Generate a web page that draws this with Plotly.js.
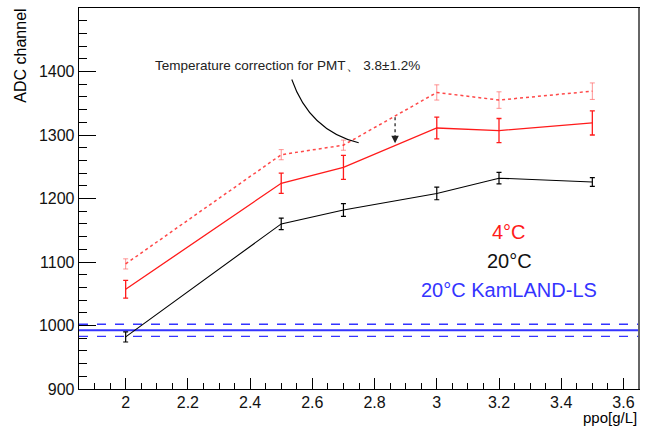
<!DOCTYPE html>
<html>
<head>
<meta charset="utf-8">
<script src="https://cdn.plot.ly/plotly-3.0.1.min.js"></script>
<style>html,body{margin:0;padding:0;background:#fff;}</style>
</head>
<body>
<div id="chart" style="width:655px;height:430px;"></div>
<script>
// ---- data ----
const ppo = [2.0, 2.5, 2.7, 3.0, 3.2, 3.5];
const adc20 = [982, 1160, 1182, 1208, 1232, 1226];
const err20 = [8, 9, 10, 10, 9, 7];
const adc4 = [1057, 1224, 1249, 1311, 1307, 1319];
const err4 = [14, 16, 19, 17, 19, 19];
const adc4corr = [1097, 1269, 1284, 1367, 1355, 1369];
const err4corr = [8, 8, 8, 12, 13, 13];
const xRange = [1.85, 3.65];
const yRange = [900, 1500];
const kamMean = 992.5;
const kamErr = 9.5;
const arrowX = 2.866;
const arrowY = [1328, 1287];
const labels = ["4°C", "20°C", "20°C KamLAND-LS"];
const noteText = "Temperature correction for PMT、 3.8±1.2%";

const FONT = "Liberation Sans, Arial, Helvetica, sans-serif";
const RED = "#ff1a1a";
const BLUE = "#3434ff";

const traces = [
  {x: xRange, y: [kamMean, kamMean], mode: "lines", line: {color: BLUE, width: 1.8}, hoverinfo: "skip"},
  {x: xRange, y: [kamMean + kamErr, kamMean + kamErr], mode: "lines", line: {color: BLUE, width: 1.3, dash: "dash"}, hoverinfo: "skip"},
  {x: xRange, y: [kamMean - kamErr, kamMean - kamErr], mode: "lines", line: {color: BLUE, width: 1.3, dash: "dash"}, hoverinfo: "skip"},
  {x: ppo, y: adc4corr, mode: "lines", line: {color: "rgba(255,40,40,0.85)", width: 1.5, dash: "dot"},
   error_y: {type: "data", array: err4corr, visible: true, color: "rgba(255,90,90,0.65)", thickness: 1, width: 2.5}},
  {x: ppo, y: adc4, mode: "lines", line: {color: RED, width: 1.3},
   error_y: {type: "data", array: err4, visible: true, color: RED, thickness: 1.3, width: 2.5}},
  {x: ppo, y: adc20, mode: "lines", line: {color: "#000", width: 1.1},
   error_y: {type: "data", array: err20, visible: true, color: "#000", thickness: 1.2, width: 2.5}}
];

const layout = {
  width: 655, height: 430,
  margin: {l: 79, r: 16, t: 8, b: 41},
  paper_bgcolor: "#fff", plot_bgcolor: "#fff",
  showlegend: false,
  font: {family: FONT, color: "#000"},
  xaxis: {
    range: xRange, dtick: 0.2, tick0: 2, ticks: "inside", ticklen: 11, tickwidth: 1, tickcolor: "#000",
    showgrid: false, zeroline: false, showline: true, linecolor: "#000", linewidth: 1.3, mirror: true,
    tickfont: {size: 16, family: FONT, color: "#111"}, ticklabelstandoff: -2,
    minor: {dtick: 0.05, ticks: "inside", ticklen: 6, tickcolor: "#000", tickwidth: 1, showgrid: false}
  },
  yaxis: {
    range: yRange, dtick: 100, ticks: "inside", ticklen: 17, tickwidth: 1, tickcolor: "#000",
    showgrid: false, zeroline: false, showline: true, linecolor: "#000", linewidth: 1.3, mirror: true,
    tickfont: {size: 16, family: FONT, color: "#111"},
    minor: {dtick: 20, ticks: "inside", ticklen: 8, tickcolor: "#000", tickwidth: 1, showgrid: false}
  },
  shapes: [
    {type: "line", xref: "paper", yref: "paper", x0: 1, x1: 1, y0: 0, y1: 1, line: {color: "#666", width: 2}},
    {type: "path", xref: "x", yref: "y",
     path: "M 2.534 1387.4 Q 2.591 1307 2.749 1287.7", line: {color: "#000", width: 1.1}},
    {type: "line", xref: "x", yref: "y", x0: arrowX, x1: arrowX, y0: arrowY[0], y1: arrowY[1] + 6,
     line: {color: "#444", width: 1.5, dash: "dot"}}
  ],
  annotations: [
    {x: arrowX, y: arrowY[1], xref: "x", yref: "y", ax: 0, ay: -7, text: "", showarrow: true,
     arrowhead: 2, arrowsize: 1, arrowwidth: 1.5, arrowcolor: "#222"},
    {x: 2.52, y: 1410, xref: "x", yref: "y", text: noteText, showarrow: false,
     font: {size: 13.5, family: FONT, color: "#222"}},
    {x: 3.233, y: 1148, xref: "x", yref: "y", text: labels[0], showarrow: false,
     font: {size: 20, family: FONT, color: RED}},
    {x: 3.233, y: 1101, xref: "x", yref: "y", text: labels[1], showarrow: false,
     font: {size: 20, family: FONT, color: "#111"}},
    {x: 3.233, y: 1056, xref: "x", yref: "y", text: labels[2], showarrow: false,
     font: {size: 20, family: FONT, color: BLUE}},
    {x: -0.1046, y: 0.876, xref: "paper", yref: "paper", text: "ADC channel", textangle: -90,
     showarrow: false, xanchor: "center", yanchor: "middle", font: {size: 16, family: FONT, color: "#000"}},
    {x: 1.0, y: -0.076, xref: "paper", yref: "paper", text: "ppo[g/L]", showarrow: false,
     xanchor: "right", yanchor: "middle", font: {size: 15, family: FONT, color: "#000"}}
  ]
};

Plotly.newPlot("chart", traces, layout, {displayModeBar: false, staticPlot: true});
</script>
</body>
</html>
